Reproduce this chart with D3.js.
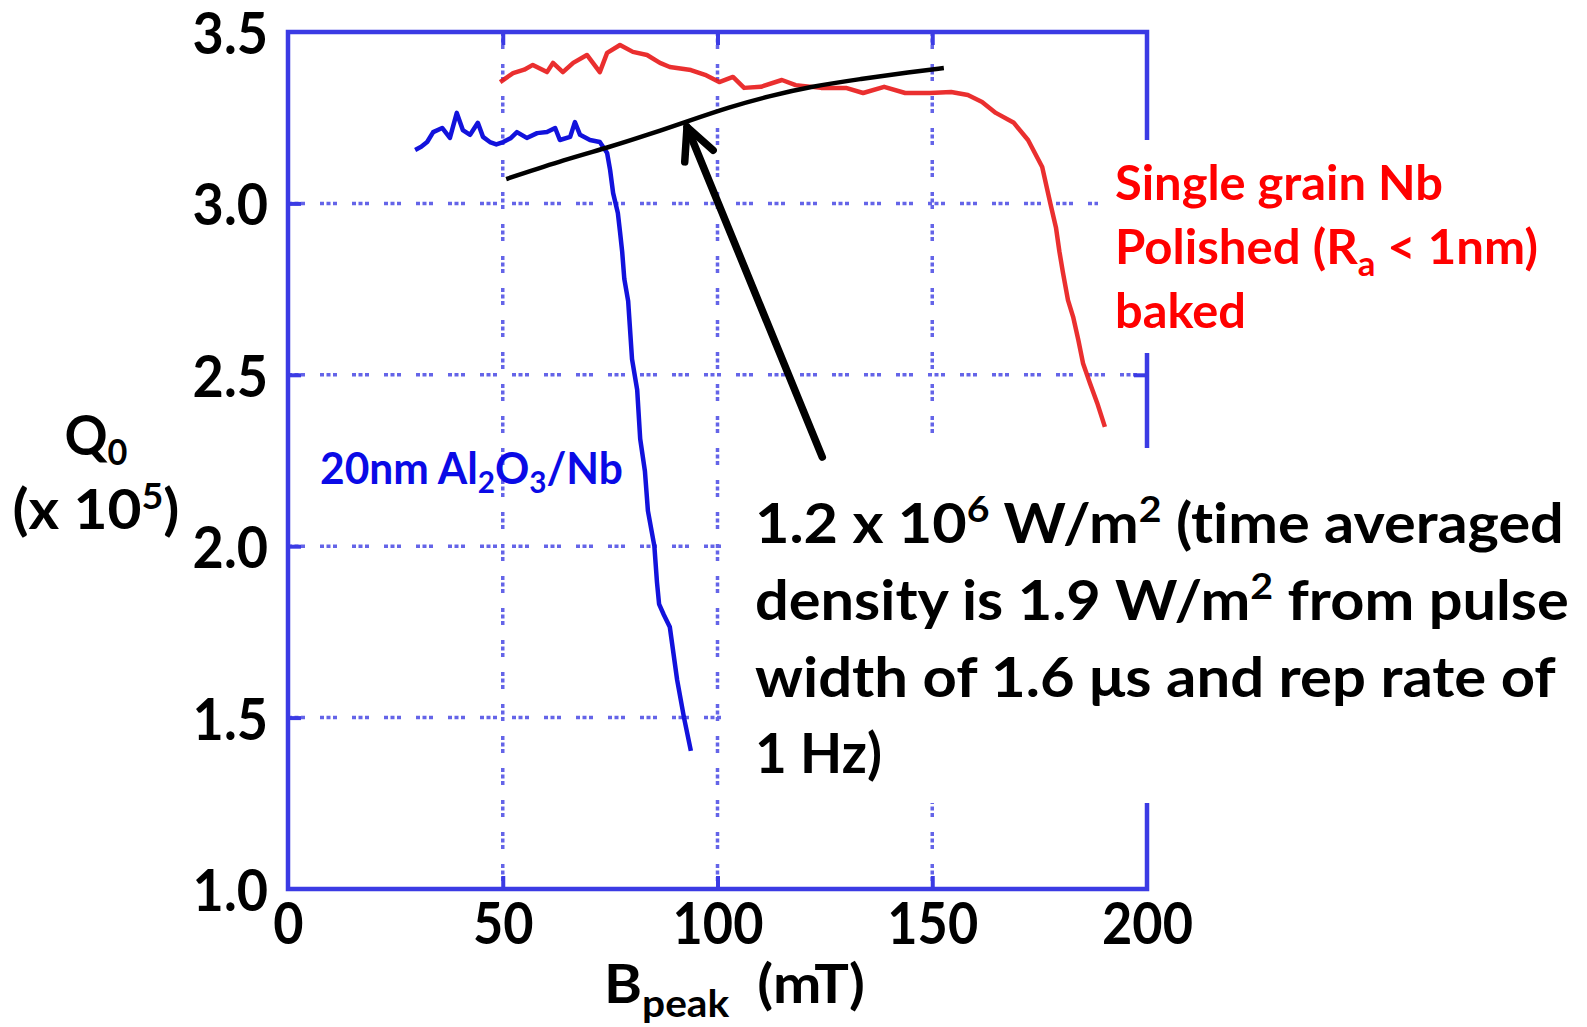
<!DOCTYPE html>
<html>
<head>
<meta charset="utf-8">
<script src="https://cdn.jsdelivr.net/npm/d3@7"></script>
<style>
  html, body { margin: 0; padding: 0; background: #fff; }
  svg { display: block; }
  text { font-family: Lato, 'Open Sans', sans-serif; font-weight: 700; font-variant-ligatures: none; }
</style>
</head>
<body>
<div id="chart"></div>
<script>
// ticks
const xTicks = [0, 50, 100, 150, 200]
const yTicks = [1.0, 1.5, 2.0, 2.5, 3.0, 3.5]

// 20nm Al2O3/Nb  (B peak in mT, Q0 in 1e5)
const blueB = [29.6, 31.0, 32.4, 33.8, 35.9, 37.7, 39.3, 40.7, 42.4, 44.2, 45.4, 47.0, 48.5, 50.1, 51.8, 53.3, 55.6, 58.0, 60.3, 62.2, 63.3, 65.7, 66.8, 68.0, 70.3, 72.6, 74.3, 75.0, 75.7, 76.8, 77.3, 77.8, 78.3, 79.2, 80.1, 81.3, 82.0, 83.1, 83.8, 85.3, 85.9, 86.4, 87.5, 88.9, 90.6, 92.2, 93.8]
const blueQ = [3.156, 3.165, 3.179, 3.208, 3.220, 3.191, 3.264, 3.214, 3.200, 3.235, 3.194, 3.179, 3.172, 3.179, 3.190, 3.208, 3.191, 3.205, 3.208, 3.220, 3.185, 3.194, 3.237, 3.200, 3.185, 3.179, 3.147, 3.097, 3.030, 2.972, 2.917, 2.860, 2.780, 2.715, 2.546, 2.456, 2.313, 2.219, 2.103, 2.000, 1.896, 1.831, 1.800, 1.764, 1.610, 1.500, 1.403]

// single grain Nb, polished, baked
const redB = [49.4, 52.4, 55.0, 57.0, 60.3, 61.7, 64.0, 66.4, 69.6, 72.6, 74.3, 77.3, 80.3, 83.6, 86.6, 88.9, 93.8, 97.1, 100.4, 103.6, 106.2, 110.1, 115.0, 118.2, 124.1, 129.9, 133.9, 138.8, 143.7, 149.5, 154.4, 158.3, 161.6, 164.8, 169.0, 172.3, 175.6, 177.5, 178.8, 179.6, 180.4, 181.6, 182.8, 184.0, 185.1, 186.7, 188.4, 190.2]
const redQ = [3.354, 3.380, 3.390, 3.404, 3.383, 3.410, 3.383, 3.410, 3.433, 3.383, 3.439, 3.462, 3.442, 3.433, 3.410, 3.398, 3.389, 3.375, 3.354, 3.369, 3.337, 3.340, 3.360, 3.345, 3.337, 3.337, 3.322, 3.340, 3.322, 3.322, 3.325, 3.316, 3.296, 3.264, 3.235, 3.185, 3.106, 3.000, 2.930, 2.860, 2.800, 2.718, 2.669, 2.602, 2.534, 2.476, 2.418, 2.348]

// black guide curve
const fitB = [50.8, 65.0, 74.3, 83.8, 93.1, 102.7, 112.0, 121.5, 133.2, 145.0, 152.7]
const fitQ = [3.071, 3.130, 3.162, 3.200, 3.240, 3.281, 3.313, 3.340, 3.363, 3.383, 3.395]

// arrow (tail -> tip), data coords
const arrowB = [124.4, 92.9]
const arrowQ = [2.26, 3.223]

const width = 1587,
      height = 1027,
      margin = { left: 288, right: 440, top: 32, bottom: 138 }

const frameColor = '#3b3be4',
      gridColor = '#6464e8'

let svg = d3.select('#chart')
  .append('svg')
  .attr('width', width)
  .attr('height', height)

svg.append('rect').attr('width', width).attr('height', height).attr('fill', '#fff')

let x = d3.scaleLinear().domain([0, 200]).range([margin.left, width - margin.right])
let y = d3.scaleLinear().domain([1.0, 3.5]).range([height - margin.bottom, margin.top])

const [x0, x1] = x.range()
const [y0, y1] = y.range()

// squeeze a text horizontally to a measured width, around its anchor
let fitX = (sel, ax, target) => {
  const w = sel.node().getComputedTextLength()
  const k = target / w
  sel.attr('transform', `translate(${ax},0) scale(${k},1) translate(${-ax},0)`)
}

// gridlines (dotted groups)
const dash = '4,2.5,4,2.5,4,15'
svg.append('g').selectAll('line')
  .data(yTicks.slice(1, -1))
  .enter().append('line')
  .attr('x1', x0).attr('x2', x1)
  .attr('y1', d => y(d)).attr('y2', d => y(d))
  .attr('stroke', gridColor).attr('stroke-width', 3.5)
  .attr('stroke-dasharray', dash)

svg.append('g').selectAll('line')
  .data(xTicks.slice(1, -1))
  .enter().append('line')
  .attr('x1', d => x(d)).attr('x2', d => x(d))
  .attr('y1', y1).attr('y2', y0)
  .attr('stroke', gridColor).attr('stroke-width', 3.5)
  .attr('stroke-dasharray', dash)

// inner ticks on all four sides
let tickAxes = [
  [d3.axisLeft(y).tickValues(yTicks.slice(1, -1)), `translate(${x0},0)`],
  [d3.axisRight(y).tickValues(yTicks.slice(1, -1)), `translate(${x1},0)`],
  [d3.axisBottom(x).tickValues(xTicks.slice(1, -1)), `translate(0,${y0})`],
  [d3.axisTop(x).tickValues(xTicks.slice(1, -1)), `translate(0,${y1})`]
]
tickAxes.forEach(([ax, tr]) => {
  let g = svg.append('g').attr('transform', tr)
    .call(ax.tickSize(-13).tickFormat(''))
  g.select('.domain').remove()
  g.selectAll('line').attr('stroke', frameColor).attr('stroke-width', 4)
})

// frame
svg.append('rect')
  .attr('x', x0).attr('y', y1)
  .attr('width', x1 - x0).attr('height', y0 - y1)
  .attr('fill', 'none')
  .attr('stroke', frameColor)
  .attr('stroke-width', 4.5)

// curves
let line = d3.line().x(d => x(d[0])).y(d => y(d[1]))

svg.append('path')
  .datum(blueB.map((b, i) => [b, blueQ[i]]))
  .attr('d', line)
  .attr('fill', 'none')
  .attr('stroke', '#1212dc')
  .attr('stroke-width', 4.5)
  .attr('stroke-linejoin', 'round')

svg.append('path')
  .datum(redB.map((b, i) => [b, redQ[i]]))
  .attr('d', line)
  .attr('fill', 'none')
  .attr('stroke', '#e81818')
  .attr('stroke-opacity', 0.9)
  .attr('stroke-width', 4.5)
  .attr('stroke-linejoin', 'round')

svg.append('path')
  .datum(fitB.map((b, i) => [b, fitQ[i]]))
  .attr('d', line.curve(d3.curveBasis))
  .attr('fill', 'none')
  .attr('stroke', '#000')
  .attr('stroke-width', 4.5)

// white boxes behind the annotations
svg.append('rect').attr('x', 1098).attr('y', 140).attr('width', width - 1098).attr('height', 213).attr('fill', '#fff')
svg.append('rect').attr('x', 730).attr('y', 448).attr('width', width - 730).attr('height', 355).attr('fill', '#fff')

// tick labels
let gy = svg.append('g')
  .attr('transform', `translate(${x0},0)`)
  .call(d3.axisLeft(y).tickValues(yTicks).tickFormat(d3.format('.1f')).tickSize(0).tickPadding(20))
gy.select('.domain').remove()
gy.selectAll('text')
  .attr('font-size', 58).attr('fill', '#000')
  .attr('x', 0).attr('dy', '0.37em')
  .attr('transform', 'translate(-20,0) scale(0.93,1)')

let gx = svg.append('g')
  .attr('transform', `translate(0,${y0})`)
  .call(d3.axisBottom(x).tickValues(xTicks).tickFormat(d3.format('d')).tickSize(0))
gx.select('.domain').remove()
gx.selectAll('text')
  .attr('font-size', 58).attr('fill', '#000')
  .attr('y', 55).attr('dy', 0)
  .attr('transform', 'scale(0.9,1)')

// axis titles
let qt = svg.append('text').attr('x', 96).attr('y', 455).attr('text-anchor', 'middle').attr('font-size', 56)
qt.append('tspan').text('Q')
qt.append('tspan').attr('font-size', 36).attr('dy', 10).text('0')
fitX(qt, 96, 63)

let qs = svg.append('text').attr('x', 96).attr('y', 529).attr('text-anchor', 'middle').attr('font-size', 56)
qs.append('tspan').text('(x 10')
qs.append('tspan').attr('font-size', 36).attr('dy', -20).text('5')
qs.append('tspan').attr('dy', 20).text(')')
fitX(qs, 96, 167)

let bt = svg.append('text').attr('x', 604).attr('y', 1003).attr('font-size', 54)
bt.append('tspan').text('B')
bt.append('tspan').attr('font-size', 38).attr('dy', 14).text('peak')
bt.append('tspan').attr('dy', -14).text('\u00a0 (mT)')
fitX(bt, 604, 261)

// series labels
let bl = svg.append('text').attr('x', 320).attr('y', 484).attr('font-size', 43).attr('fill', '#0a0ae6')
bl.append('tspan').text('20nm Al')
bl.append('tspan').attr('font-size', 30).attr('dy', 9).text('2')
bl.append('tspan').attr('dy', -9).text('O')
bl.append('tspan').attr('font-size', 30).attr('dy', 9).text('3')
bl.append('tspan').attr('dy', -9).text('/Nb')
fitX(bl, 320, 303)

const redLines = ['Single grain Nb', null, 'baked']
const redBase = [200, 264, 328]
const redWidth = [328, 423, 131]
redBase.forEach((yb, i) => {
  let t = svg.append('text').attr('x', 1115).attr('y', yb).attr('font-size', 48).attr('fill', '#ff0000')
  if (redLines[i]) {
    t.text(redLines[i])
  } else {
    t.append('tspan').text('Polished (R')
    t.append('tspan').attr('font-size', 34).attr('dy', 12).text('a')
    t.append('tspan').attr('dy', -12).text(' < 1nm)')
  }
  fitX(t, 1115, redWidth[i])
})

// power density note
const noteBase = [543, 620, 697, 773]
const noteWidth = [809, 814, 801, 127]
noteBase.forEach((yb, i) => {
  let t = svg.append('text').attr('x', 755).attr('y', yb).attr('font-size', 56).attr('fill', '#000')
  if (i === 0) {
    t.append('tspan').text('1.2 x 10')
    t.append('tspan').attr('font-size', 37).attr('dy', -21).text('6')
    t.append('tspan').attr('dy', 21).text(' W/m')
    t.append('tspan').attr('font-size', 37).attr('dy', -21).text('2')
    t.append('tspan').attr('dy', 21).text(' (time averaged')
  } else if (i === 1) {
    t.append('tspan').text('density is 1.9 W/m')
    t.append('tspan').attr('font-size', 37).attr('dy', -21).text('2')
    t.append('tspan').attr('dy', 21).text(' from pulse')
  } else if (i === 2) {
    t.text('width of 1.6 \u03bcs and rep rate of')
  } else {
    t.text('1 Hz)')
  }
  fitX(t, 755, noteWidth[i])
})

// arrow
const tail = [x(arrowB[0]), y(arrowQ[0])],
      tip = [x(arrowB[1]), y(arrowQ[1])]
const ang = Math.atan2(tail[1] - tip[1], tail[0] - tip[0]),
      wing = 35,
      spread = 26 * Math.PI / 180
let arrow = svg.append('g')
  .attr('stroke', '#000').attr('stroke-width', 7.5)
  .attr('stroke-linecap', 'round').attr('fill', 'none')
arrow.append('line')
  .attr('x1', tail[0]).attr('y1', tail[1])
  .attr('x2', tip[0]).attr('y2', tip[1])
arrow.append('path')
  .attr('stroke-linejoin', 'round')
  .attr('d', `M${tip[0] + wing * Math.cos(ang + spread)},${tip[1] + wing * Math.sin(ang + spread)}L${tip[0]},${tip[1]}L${tip[0] + wing * Math.cos(ang - spread)},${tip[1] + wing * Math.sin(ang - spread)}`)
</script>
</body>
</html>
